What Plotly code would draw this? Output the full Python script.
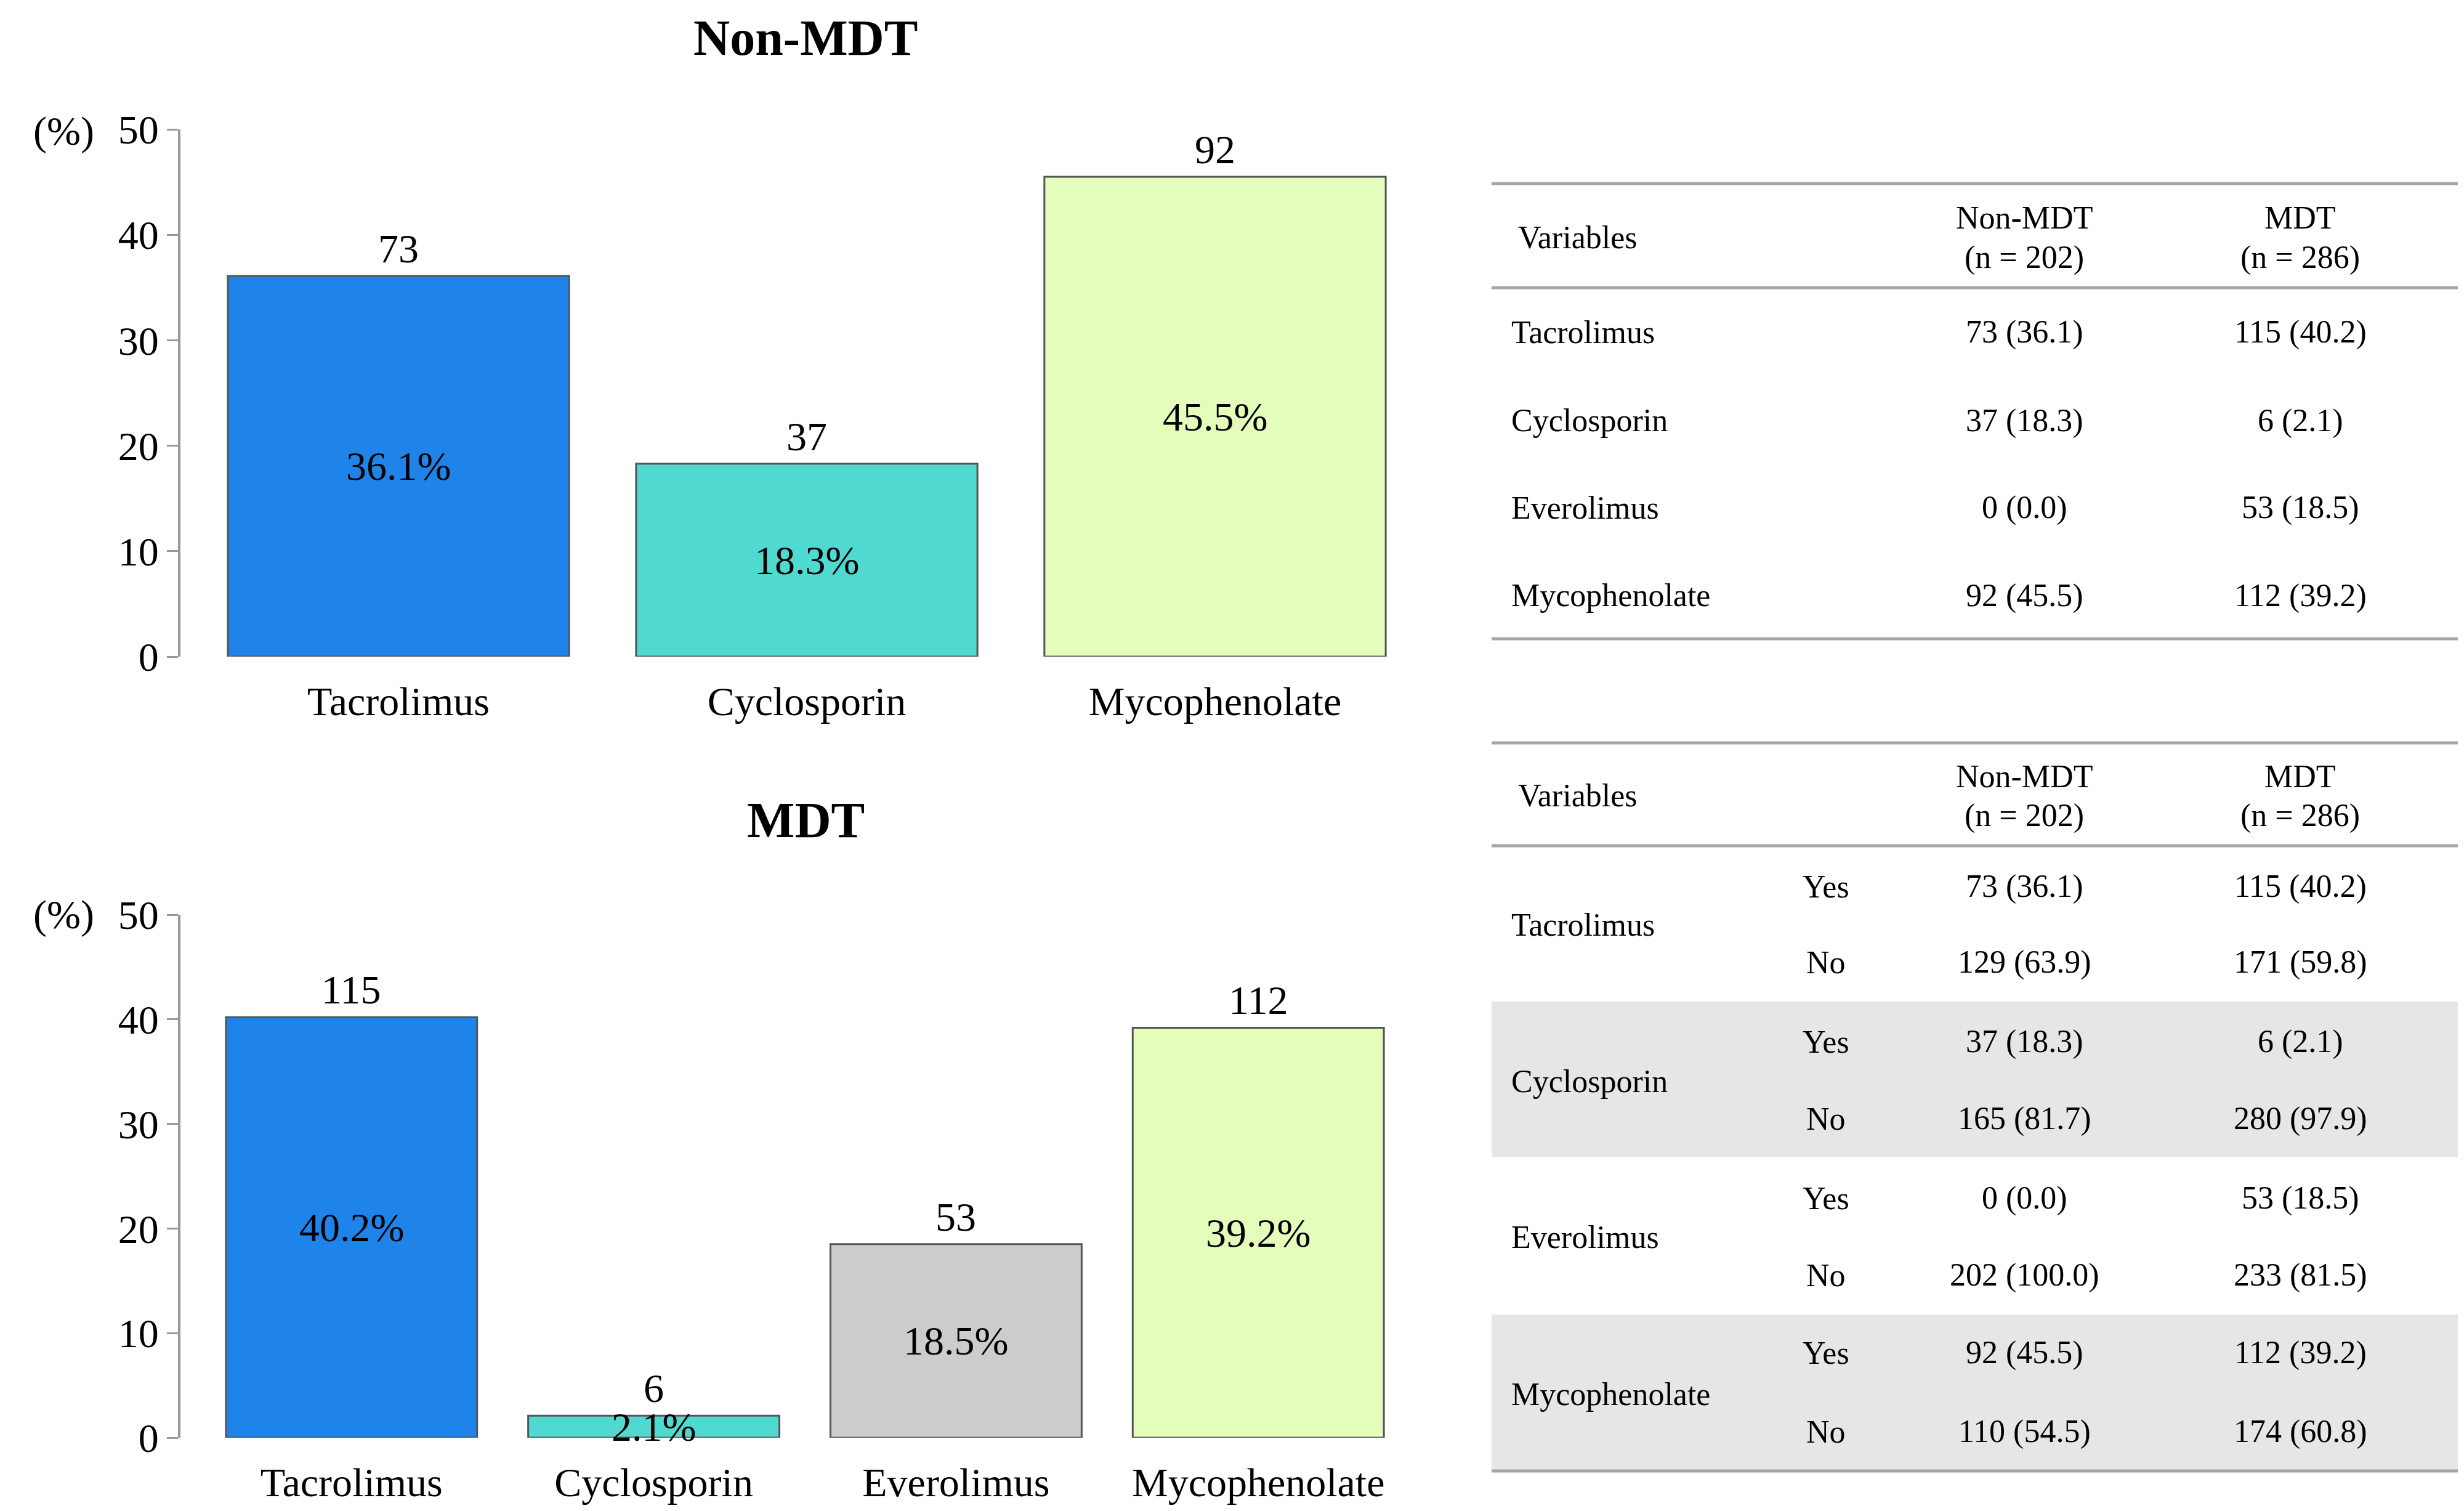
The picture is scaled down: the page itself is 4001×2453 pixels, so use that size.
import plotly.graph_objects as go

W, H = 4001, 2453
FONT = "Liberation Serif"

# ---- data ----
nonmdt_drugs = ["Tacrolimus", "Cyclosporin", "Mycophenolate"]
nonmdt_counts = [73, 37, 92]
nonmdt_pct = [36.1, 18.3, 45.5]

mdt_drugs = ["Tacrolimus", "Cyclosporin", "Everolimus", "Mycophenolate"]
mdt_counts = [115, 6, 53, 112]
mdt_pct = [40.2, 2.1, 18.5, 39.2]

drug_colors = {"Tacrolimus": "#1E84EA", "Cyclosporin": "#50D9D0",
               "Everolimus": "#CCCCCC", "Mycophenolate": "#E5FDBB"}

y_ticks = [0, 10, 20, 30, 40, 50]

n_nonmdt = 202
n_mdt = 286
table_vars = ["Tacrolimus", "Cyclosporin", "Everolimus", "Mycophenolate"]
yes_nonmdt = [73, 37, 0, 92]
yes_nonmdt_pct = [36.1, 18.3, 0.0, 45.5]
yes_mdt = [115, 6, 53, 112]
yes_mdt_pct = [40.2, 2.1, 18.5, 39.2]
no_nonmdt = [129, 165, 202, 110]
no_nonmdt_pct = [63.9, 81.7, 100.0, 54.5]
no_mdt = [171, 280, 233, 174]
no_mdt_pct = [59.8, 97.9, 81.5, 60.8]


def px(x):
    return x / W


def py(y):
    return 1 - y / H


fig = go.Figure()

fig.add_trace(go.Bar(
    x=nonmdt_drugs, y=nonmdt_pct,
    marker=dict(color=[drug_colors[d] for d in nonmdt_drugs],
                line=dict(color="#555555", width=3)),
    width=0.836, xaxis="x", yaxis="y", hoverinfo="skip", showlegend=False))

fig.add_trace(go.Bar(
    x=mdt_drugs, y=mdt_pct,
    marker=dict(color=[drug_colors[d] for d in mdt_drugs],
                line=dict(color="#555555", width=3)),
    width=0.831, xaxis="x2", yaxis="y2", hoverinfo="skip", showlegend=False))

annotations = []
CH = 66
for drugs, counts, pcts, xr, yr in [(nonmdt_drugs, nonmdt_counts, nonmdt_pct, "x", "y"),
                                    (mdt_drugs, mdt_counts, mdt_pct, "x2", "y2")]:
    for d, c, p in zip(drugs, counts, pcts):
        annotations.append(dict(x=d, y=p, xref=xr, yref=yr, text=str(c),
                                showarrow=False, yanchor="bottom", yshift=6,
                                font=dict(family=FONT, size=CH, color="black")))
        annotations.append(dict(x=d, y=p / 2, xref=xr, yref=yr, text=f"{p}%",
                                showarrow=False, yanchor="middle",
                                font=dict(family=FONT, size=CH, color="black")))

# Titles and (%) labels
annotations.append(dict(x=px(1300), y=py(54), xref="paper", yref="paper", text="<b>Non-MDT</b>",
                        showarrow=False, xanchor="center", yanchor="middle",
                        font=dict(family=FONT, size=82, color="black")))
annotations.append(dict(x=px(1300), y=py(1324), xref="paper", yref="paper", text="<b>MDT</b>",
                        showarrow=False, xanchor="center", yanchor="middle",
                        font=dict(family=FONT, size=82, color="black")))
for yy in [205, 1477]:
    annotations.append(dict(x=px(95), y=py(yy), xref="paper", yref="paper", text="(%)",
                            showarrow=False, xanchor="center", yanchor="middle",
                            font=dict(family=FONT, size=CH, color="black")))

# ---- tables ----
TF = 52
shapes = []
LINE = dict(color="#a6a6a6", width=5)
TX0, TX1 = 2414, 3983


def hline(y):
    shapes.append(dict(type="line", xref="paper", yref="paper",
                       x0=px(TX0), x1=px(TX1), y0=py(y), y1=py(y), line=LINE))


def txt(x, y, s, anchor="center"):
    annotations.append(dict(x=px(x), y=py(y), xref="paper", yref="paper", text=s,
                            showarrow=False, xanchor=anchor, yanchor="middle",
                            font=dict(family=FONT, size=TF, color="black")))


COL1, COL2 = 3279, 3727

# Table 1
hline(290); hline(459); hline(1029)
txt(2455, 377, "Variables", "left")
txt(COL1, 346, "Non-MDT"); txt(COL1, 410, f"(n = {n_nonmdt})")
txt(COL2, 346, "MDT"); txt(COL2, 410, f"(n = {n_mdt})")
row_y1 = [531, 675, 816, 959]
for i, v in enumerate(table_vars):
    txt(2444, row_y1[i], v, "left")
    txt(COL1, row_y1[i], f"{yes_nonmdt[i]} ({yes_nonmdt_pct[i]:.1f})")
    txt(COL2, row_y1[i], f"{yes_mdt[i]} ({yes_mdt_pct[i]:.1f})")

# Table 2
for y0, y1 in [(1618, 1870), (2126, 2380)]:
    shapes.append(dict(type="rect", xref="paper", yref="paper", x0=px(TX0), x1=px(TX1),
                       y0=py(y1), y1=py(y0), fillcolor="#e6e6e6", line=dict(width=0),
                       layer="below"))
hline(1198); hline(1365); hline(2380)
txt(2455, 1283, "Variables", "left")
txt(COL1, 1252, "Non-MDT"); txt(COL1, 1316, f"(n = {n_nonmdt})")
txt(COL2, 1252, "MDT"); txt(COL2, 1316, f"(n = {n_mdt})")
group_y = [1493, 1747, 2001, 2255]
yes_y = [1431, 1683, 1937, 2188]
no_y = [1554, 1808, 2062, 2316]
for i, v in enumerate(table_vars):
    txt(2444, group_y[i], v, "left")
    txt(2957, yes_y[i], "Yes")
    txt(2957, no_y[i], "No")
    txt(COL1, yes_y[i], f"{yes_nonmdt[i]} ({yes_nonmdt_pct[i]:.1f})")
    txt(COL2, yes_y[i], f"{yes_mdt[i]} ({yes_mdt_pct[i]:.1f})")
    txt(COL1, no_y[i], f"{no_nonmdt[i]} ({no_nonmdt_pct[i]:.1f})")
    txt(COL2, no_y[i], f"{no_mdt[i]} ({no_mdt_pct[i]:.1f})")

yaxis_common = dict(range=[0, 50], tickvals=y_ticks, ticks="outside", ticklen=18,
                    tickwidth=3, tickcolor="#999999", showline=True, linecolor="#999999",
                    linewidth=4, showgrid=False, zeroline=False, automargin=False,
                    tickfont=dict(family=FONT, size=CH, color="black"), fixedrange=True)
xaxis_common = dict(showline=False, showgrid=False, zeroline=False, ticks="",
                    automargin=False,
                    tickfont=dict(family=FONT, size=CH, color="black"),
                    ticklabelstandoff=28)

fig.update_layout(
    template="none",
    width=W, height=H, margin=dict(l=0, r=0, t=0, b=0, pad=0, autoexpand=False),
    paper_bgcolor="white", plot_bgcolor="white",
    xaxis=dict(domain=[px(285), px(2260)], range=[-0.534, 2.445], anchor="y", **xaxis_common),
    yaxis=dict(domain=[py(1058), py(202)], anchor="x", **yaxis_common),
    xaxis2=dict(domain=[px(285), px(2260)], range=[-0.566, 3.458], anchor="y2", **xaxis_common),
    yaxis2=dict(domain=[py(2326), py(1477)], anchor="x2", **yaxis_common),
    annotations=annotations, shapes=shapes, bargap=0.16,
)

fig.write_html("out.html")
